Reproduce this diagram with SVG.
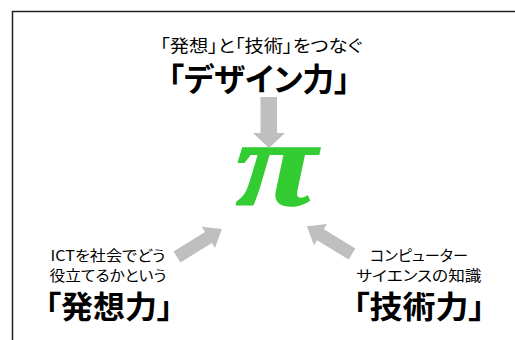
<svg xmlns="http://www.w3.org/2000/svg" width="515" height="340" viewBox="0 0 515 340">
<style>
.t{font-family:"Noto Sans CJK JP","Liberation Sans",sans-serif;fill:#000;text-anchor:middle;font-feature-settings:"palt"}
.b{font-weight:bold}
.arrow{fill:#bfbfbf}
.pi{font-family:"Liberation Serif",serif;font-style:italic;font-weight:bold;fill:#33cc33;stroke:#33cc33;stroke-width:1.5;text-anchor:middle}
</style>
<defs>
<polygon id="diag" points="0,-6.5 37,-6.5 37,-12.5 53,0 37,12.5 37,6.5 0,6.5"/>
</defs>
<rect width="515" height="340" fill="#fff"/>
<path d="M12.5,340 V11.5 H515" fill="none" stroke="#222" stroke-width="1.5"/>
<g id="title">
<text class="t" x="261" y="52" font-size="17" textLength="202" lengthAdjust="spacingAndGlyphs">「発想」と「技術」をつなぐ</text>
<text class="t b" x="259" y="91" font-size="32" textLength="182" lengthAdjust="spacingAndGlyphs">「デザイン力」</text>
</g>
<g id="pi">
<text class="pi" x="0" y="0" font-size="122" transform="translate(276,205) scale(1.22,1)">π</text>
</g>
<g id="left">
<text class="t" x="108" y="261" font-size="14.5" textLength="115" lengthAdjust="spacingAndGlyphs">ICTを社会でどう</text>
<text class="t" x="108" y="281" font-size="14.5" textLength="117" lengthAdjust="spacingAndGlyphs">役立てるかという</text>
<text class="t b" x="109" y="318" font-size="31" textLength="128" lengthAdjust="spacingAndGlyphs">「発想力」</text>
</g>
<g id="right">
<text class="t" x="419" y="261" font-size="14.5" textLength="98" lengthAdjust="spacingAndGlyphs">コンピューター</text>
<text class="t" x="419" y="281" font-size="14.5" textLength="125" lengthAdjust="spacingAndGlyphs">サイエンスの知識</text>
<text class="t b" x="419" y="318" font-size="31" textLength="132" lengthAdjust="spacingAndGlyphs">「技術力」</text>
</g>
<g id="connectors">
<polygon class="arrow" points="260.5,97 277,97 277,133 285,133 269,148 253,133 260.5,133"/>
<use href="#diag" class="arrow" transform="translate(177,257) rotate(-32)"/>
<use href="#diag" class="arrow" transform="translate(352,254) rotate(-148.5)"/>
</g>
</svg>
